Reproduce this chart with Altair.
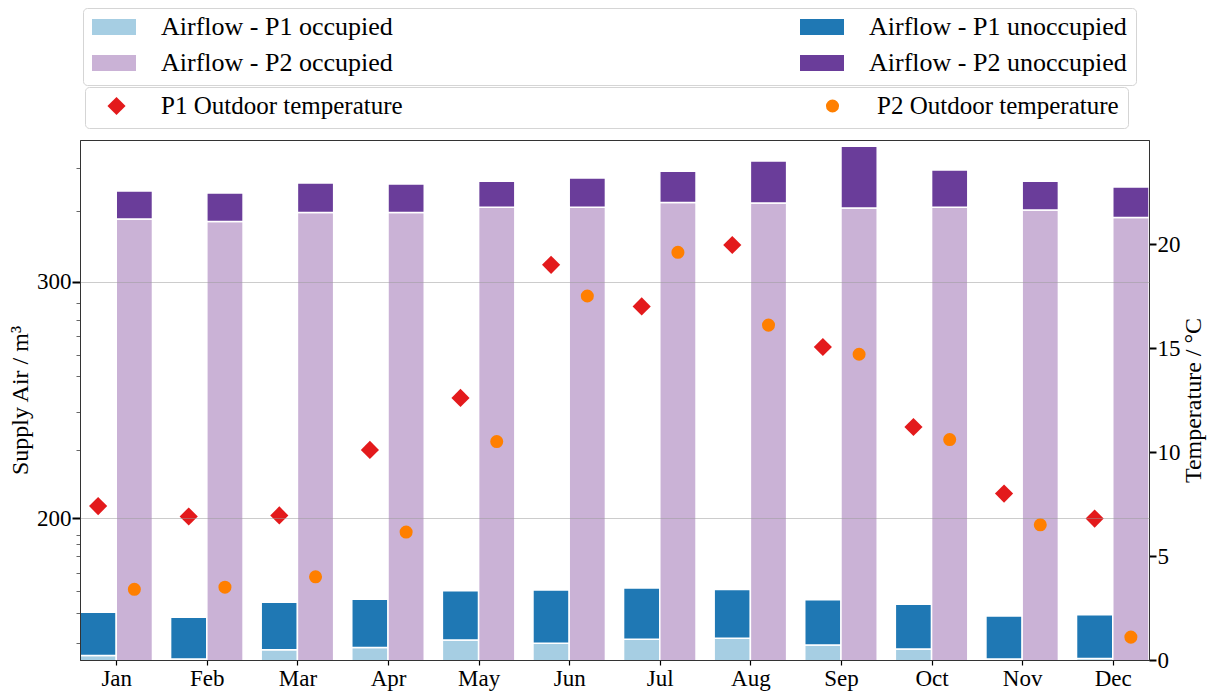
import altair as alt
import pandas as pd

months = ["Jan", "Feb", "Mar", "Apr", "May", "Jun", "Jul", "Aug", "Sep", "Oct", "Nov", "Dec"]
p1_occupied = [141.9, 140.4, 144.3, 145.3, 148.5, 147.1, 148.8, 149.2, 146.3, 144.7, 140.4, 140.6]
p1_unoccupied = [18.3, 17.7, 20.1, 20.4, 20.8, 22.5, 21.7, 20.6, 19.2, 18.9, 18.2, 18.5]
p2_occupied = [326.6, 325.5, 329.3, 329.3, 331.6, 331.6, 333.6, 333.3, 331.2, 331.6, 330.4, 327.2]
p2_unoccupied = [11.8, 12.1, 12.5, 12.1, 11.0, 12.3, 13.2, 17.8, 26.2, 15.7, 12.2, 12.9]
p1_temp = [7.4, 6.9, 6.95, 10.1, 12.6, 19.0, 17.0, 19.95, 15.05, 11.2, 8.0, 6.8]
p2_temp = [3.4, 3.5, 4.0, 6.15, 10.5, 17.5, 19.6, 16.1, 14.7, 10.6, 6.5, 1.1]

bar_series = ["Airflow - P1 occupied", "Airflow - P1 unoccupied",
              "Airflow - P2 occupied", "Airflow - P2 unoccupied"]
bar_colors = ["#a6cee3", "#1f78b4", "#cab2d6", "#6a3d9a"]
temp_series = ["P1 Outdoor temperature", "P2 Outdoor temperature"]
temp_colors = ["#e31a1c", "#ff7f00"]
temp_shapes = ["diamond", "circle"]
temp_sizes = [330, 170]

left_major = [200, 300]
left_minor = [147, 160, 169, 177, 184, 189, 193, 229, 245, 260, 269, 277, 284, 291, 330, 348]
right_ticks = [0, 5, 10, 15, 20]
bar_width = 0.4

# ---- tables built from the arrays ----
rows = []
for i, m in enumerate(months):
    stacks = [
        (i - bar_width, i, [(bar_series[0], p1_occupied[i]), (bar_series[1], p1_unoccupied[i])]),
        (i, i + bar_width, [(bar_series[2], p2_occupied[i]), (bar_series[3], p2_unoccupied[i])]),
    ]
    for x0, x1, parts in stacks:
        base = 0.0
        for name, val in parts:
            rows.append({"month": m, "x0": x0, "x1": x1, "y0": base, "y1": base + val, "series": name})
            base += val
bar_df = pd.DataFrame(rows)

trows = []
for i, m in enumerate(months):
    trows.append({"month": m, "x": i - bar_width / 2, "temp": p1_temp[i], "temp_series": temp_series[0]})
    trows.append({"month": m, "x": i + bar_width / 2, "temp": p2_temp[i], "temp_series": temp_series[1]})
temp_df = pd.DataFrame(trows)

FONT = "Liberation Serif"
TICK_FS = 23
x_scale = alt.Scale(domain=[-bar_width, len(months) - 1 + bar_width], nice=False, zero=False)
label_expr = "[" + ",".join("'%s'" % m for m in months) + "][datum.value]"
x_axis = alt.Axis(values=list(range(len(months))), labelExpr=label_expr, title=None, grid=False,
                  tickSize=5, tickColor="black", tickWidth=1.2, labelPadding=2, domainColor="#333")

major_test = " || ".join("datum.value == %d" % v for v in left_major)
left_axis = alt.Axis(
    values=left_major + left_minor,
    labelExpr="(%s) ? datum.value : ''" % major_test,
    title="Supply Air / m³",
    tickSize={"condition": {"test": major_test, "value": 8}, "value": 4},
    tickColor={"condition": {"test": major_test, "value": "black"}, "value": "#666"},
    tickWidth={"condition": {"test": major_test, "value": 2}, "value": 1},
    grid=True, gridColor="#999",
    gridOpacity={"condition": {"test": major_test, "value": 0.5}, "value": 0},
    zindex=1, labelPadding=1, titlePadding=4, domainColor="#333",
)
right_axis = alt.Axis(orient="right", values=right_ticks, title="Temperature / °C", grid=False,
                      tickSize=7, tickWidth=2, tickColor="black", labelPadding=1,
                      titlePadding=1, titleAngle=270, titleBaseline="top", domainColor="#333")

common_legend = dict(title=None, orient="none", direction="horizontal", labelFont=FONT,
                     labelColor="black", strokeColor="#d5d5d5", cornerRadius=4,
                     fillColor="white", labelLimit=500, clipHeight=20,
                     symbolStrokeWidth=0, columns=2)

bar_legend = alt.Legend(legendX=3, legendY=-132, columnPadding=407, rowPadding=10, padding=9,
                        labelFontSize=26, symbolType="M-1,-0.364H1V0.364H-1Z", symbolSize=1936,
                        labelOffset=25, **common_legend)
temp_legend = alt.Legend(legendX=5, legendY=-53, columnPadding=407, padding=9, labelFontSize=25,
                         symbolOffset=10, labelOffset=32, symbolOpacity=1, **common_legend)

bars = alt.Chart(bar_df).mark_rect(stroke="white", strokeWidth=1.5, clip=True).encode(
    x=alt.X("x0:Q", scale=x_scale, axis=x_axis),
    x2="x1:Q",
    y=alt.Y("y0:Q", scale=alt.Scale(domain=[140, 360], nice=False, zero=False), axis=left_axis),
    y2="y1:Q",
    color=alt.Color("series:N", scale=alt.Scale(domain=bar_series, range=bar_colors), legend=bar_legend),
)

points = alt.Chart(temp_df).mark_point(filled=True, opacity=1, strokeWidth=0).encode(
    x=alt.X("x:Q", scale=x_scale, axis=x_axis),
    y=alt.Y("temp:Q", scale=alt.Scale(domain=[0, 25], nice=False, zero=True), axis=right_axis),
    fill=alt.Fill("temp_series:N", scale=alt.Scale(domain=temp_series, range=temp_colors), legend=temp_legend),
    shape=alt.Shape("temp_series:N", scale=alt.Scale(domain=temp_series, range=temp_shapes), legend=temp_legend),
    size=alt.Size("temp_series:N", scale=alt.Scale(domain=temp_series, range=temp_sizes), legend=temp_legend),
)

chart = alt.layer(bars, points).resolve_scale(y="independent").properties(
    width=1069, height=520,
    background="white",
    autosize=alt.AutoSizeParams(type="none"),
    padding={"left": 80, "top": 140, "right": 66, "bottom": 33},
).configure_view(stroke="#333", strokeWidth=1).configure_axis(
    labelFont=FONT, labelFontSize=TICK_FS, labelColor="black",
    titleFont=FONT, titleFontSize=24, titleFontWeight="normal", titleColor="black",
)

chart.save("out.html", embed_options={"renderer": "svg", "actions": False})
